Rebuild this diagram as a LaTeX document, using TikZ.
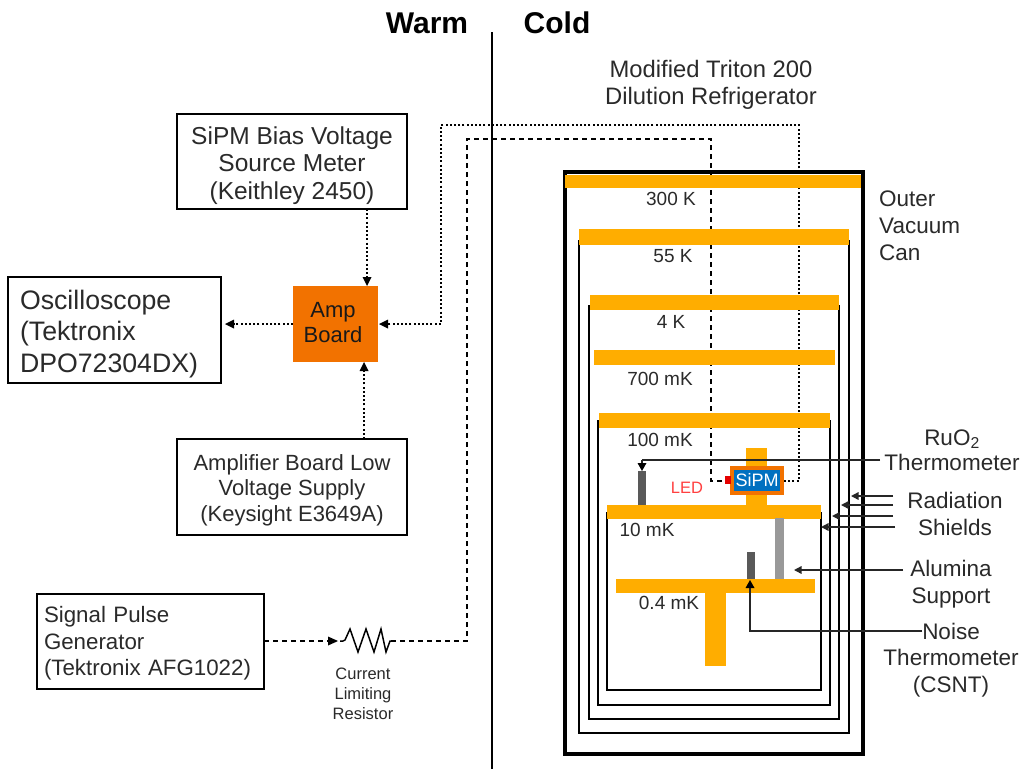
\documentclass[tikz,border=0pt]{standalone}
\usepackage{fontspec}
\setmainfont{Liberation Sans}
\usetikzlibrary{arrows.meta}
\definecolor{plateorange}{HTML}{FFAD00}
\definecolor{ampor}{HTML}{F27200}
\definecolor{sipmblue}{HTML}{0070C0}
\definecolor{txt}{HTML}{2A2A2A}
\newcommand{\fs}[2]{\fontsize{#1}{#2}\selectfont}
\tikzset{
  x=1pt,y=-1pt,
  smalltip/.style={-{Triangle[length=7.5pt,width=7.5pt]}},
  dotline/.style={line width=2.6pt,dash pattern=on 2pt off 2.2pt,black},
  dashline/.style={line width=2.6pt,dash pattern=on 5pt off 4pt,black},
  leader/.style={line width=1.4pt,black!85},
  shield/.style={line width=1.6pt,black},
  ibox/.style={draw=black,line width=2.4pt,fill=white,inner sep=0pt},
  plate/.style={fill=plateorange,draw=none,inner sep=0pt},
  solid rect/.style={draw=none,inner sep=0pt},
  lab/.style={inner sep=0pt,align=center,text=txt},
  hot/.style={inner sep=0pt,font=\bfseries\fs{30}{32},text=black},
}
\begin{document}
\begin{tikzpicture}
\useasboundingbox (0,0) rectangle (1022,769);
\fill[white] (0,0) rectangle (1022,769);

% warm / cold
\coordinate (wt) at (492,32); \coordinate (wb) at (492,769);
\draw[line width=2pt,black] (wt) -- (wb);
\node[hot] (warm) at (427,23) {Warm};
\node[hot] (cold) at (557,23) {Cold};

% can
\node[draw=black,line width=4pt,minimum width=298pt,minimum height=582pt,inner sep=0pt] (can) at (713.5,463) {};

% shields
\draw[shield] (579,240) -- (579,733) -- (849,733) -- (849,240);
\draw[shield] (589,305) -- (589,719) -- (839,719) -- (839,305);
\draw[shield] (598,420) -- (598,705) -- (830,705) -- (830,420);
\draw[shield] (607,512) -- (607,690) -- (821,690) -- (821,512);

% instrument boxes
\node[ibox,minimum width=230pt,minimum height=95pt] (bias) at (292,161.5) {};
\node[lab,font=\fs{24.5}{27.5}] (biast) at (292,165.5) {SiPM Bias Voltage\\Source Meter\\(Keithley 2450)};
\node[ibox,minimum width=213pt,minimum height=106pt] (scope) at (114.5,330) {};
\node[lab,font=\fs{26.7}{31.5},align=left,text width=189pt] (scopet) at (114.5,334) {Oscilloscope\\(Tektronix\\DPO72304DX)};
\node[fill=ampor,inner sep=0pt,minimum width=85pt,minimum height=76pt] (amp) at (335.5,324) {};
\node[lab,font=\fs{22}{25},text=black!90] (ampt) at (333,323) {Amp\\Board};
\node[ibox,minimum width=230pt,minimum height=96pt] (lowv) at (292,487) {};
\node[lab,font=\fs{22}{25.5}] (lowvt) at (292,490) {Amplifier Board Low\\Voltage Supply\\(Keysight E3649A)};
\node[ibox,minimum width=227pt,minimum height=95pt] (pulse) at (150.5,641.5) {};
\node[lab,font=\fs{22.3}{26.5},align=left,text width=213pt] (pulset) at (150.5,643.5) {Signal Pulse\\Generator\\(Tektronix AFG1022)};

% resistor
\coordinate (rin) at (340,641);
\coordinate (rout) at (391,641);
\draw[line width=1.5pt,line join=miter,black] (rin) -- (343,641) -- (345,640) -- (350,629) -- (358,652) -- (366,629) -- (374,652) -- (381,629) -- (386,652) -- (390,641) -- (rout);
\node[lab,font=\fs{16.5}{20}] (rlab) at (363,694) {Current\\Limiting\\Resistor};

% wiring
\coordinate (d1) at (441,324); \coordinate (d2) at (441,125); \coordinate (d3) at (799,125); \coordinate (d4) at (799,481);
\coordinate (h1) at (467,641); \coordinate (h2) at (467,139); \coordinate (h3) at (711,139); \coordinate (h4) at (711,481);
\draw[dashline] (rout) -- (h1) -- (h2) -- (h3) -- (h4) -- (725,481);
\draw[dotline] (784,481) -- (d4) -- (d3) -- (d2) -- (d1) -- (388,324);

% arrows at the amp board
\draw[dotline] (367,209) -- (367,278);
\fill[black] (362.5,277) -- (371.5,277) -- (367,286) -- cycle;
\draw[dotline] (364,439) -- (364,371);
\fill[black] (359.5,371) -- (368.5,371) -- (364,362) -- cycle;
\draw[dotline] (293,324) -- (234,324);
\fill[black] (234,319.5) -- (234,328.5) -- (225,324) -- cycle;
\fill[black] (388,319.5) -- (388,328.5) -- (379,324) -- cycle;
\draw[dashline] (264,641) -- (330,641);
\fill[black] (328,636.5) -- (328,645.5) -- (338,641) -- cycle;

% plates
\node[plate,minimum width=296pt,minimum height=13pt] (p300) at (713,181.5) {};
\node[plate,minimum width=270pt,minimum height=16pt] (p55) at (714,237) {};
\node[plate,minimum width=249pt,minimum height=15pt] (p4) at (714.5,302.5) {};
\node[plate,minimum width=241pt,minimum height=15pt] (p700) at (714.5,357.5) {};
\node[plate,minimum width=231pt,minimum height=15pt] (p100) at (714.5,420.5) {};
\node[plate,minimum width=21pt,minimum height=57pt] (pillar) at (756.5,476.5) {};
\node[plate,minimum width=214pt,minimum height=14pt] (p10) at (714,512) {};
\node[plate,minimum width=199pt,minimum height=14pt] (p04) at (715.5,586) {};
\node[plate,minimum width=21pt,minimum height=73pt] (stem) at (715.5,629.5) {};

% thermometers and support
\node[solid rect,fill=black!65,minimum width=8pt,minimum height=34pt] (ruo) at (642,488) {};
\node[solid rect,fill=black!40,minimum width=9pt,minimum height=61pt] (alu) at (779.5,548.5) {};
\node[solid rect,fill=black!65,minimum width=8pt,minimum height=27pt] (csnt) at (750.5,565.5) {};

% SiPM and LED
\node[fill=sipmblue,draw=ampor,line width=4pt,minimum width=50pt,minimum height=25pt,inner sep=0pt,text=white,font=\fs{18}{20}] (sipm) at (757,480.5) {SiPM};
\node[solid rect,fill=red!90!black,minimum width=6pt,minimum height=8pt] (led) at (728,480) {};
\node[lab,font=\fs{16.5}{18},text=red!75!white] (ledl) at (687,488) {LED};

% temperature labels
\node[lab,font=\fs{19}{21}] (t300) at (671,199) {300 K};
\node[lab,font=\fs{19}{21}] (t55) at (673,256) {55 K};
\node[lab,font=\fs{19}{21}] (t4) at (671,322) {4 K};
\node[lab,font=\fs{19}{21}] (t700) at (660,379) {700 mK};
\node[lab,font=\fs{19}{21}] (t100) at (660,440) {100 mK};
\node[lab,font=\fs{19}{21}] (t10) at (647,530) {10 mK};
\node[lab,font=\fs{19}{21}] (t04) at (669,603) {0.4 mK};

% right labels
\node[lab,font=\fs{23.8}{27}] (triton) at (711,84.5) {Modified Triton 200\\Dilution Refrigerator};
\node[lab,font=\fs{22.5}{27},align=left,anchor=west] (ovc) at (879,226) {Outer\\Vacuum\\Can};
\node[lab,font=\fs{22.5}{25.5}] (ruol) at (952,450) {RuO\textsubscript{2}\\Thermometer};
\node[lab,font=\fs{22.5}{27}] (shl) at (955,513.5) {Radiation\\Shields};
\node[lab,font=\fs{22.5}{27}] (alul) at (951,584) {Alumina\\Support};
\node[lab,font=\fs{22.5}{26.5}] (noil) at (951,660) {Noise\\Thermometer\\(CSNT)};

% leaders
\coordinate (r1) at (642,460);
\draw[leader] (880,460) -- (r1);
\draw[leader] (r1) -- (642,464);
\fill[black] (637.5,463) -- (646.5,463) -- (642,471) -- cycle;
\coordinate (s1) at (893,496); \coordinate (s2) at (893,505); \coordinate (s3) at (893,516); \coordinate (s4) at (895,527);
\draw[leader,smalltip] (s1) -- (851,496);
\draw[leader,smalltip] (s2) -- (841,505);
\draw[leader,smalltip] (s3) -- (832,516);
\draw[leader,smalltip] (s4) -- (821,527);
\coordinate (a1) at (903,570);
\draw[leader,smalltip] (a1) -- (794,570);
\coordinate (n1) at (922,631); \coordinate (n2) at (750,631);
\draw[leader] (n1) -- (n2) -- (750,586);
\fill[black] (745.5,588) -- (754.5,588) -- (750,580) -- cycle;
\end{tikzpicture}
\end{document}
